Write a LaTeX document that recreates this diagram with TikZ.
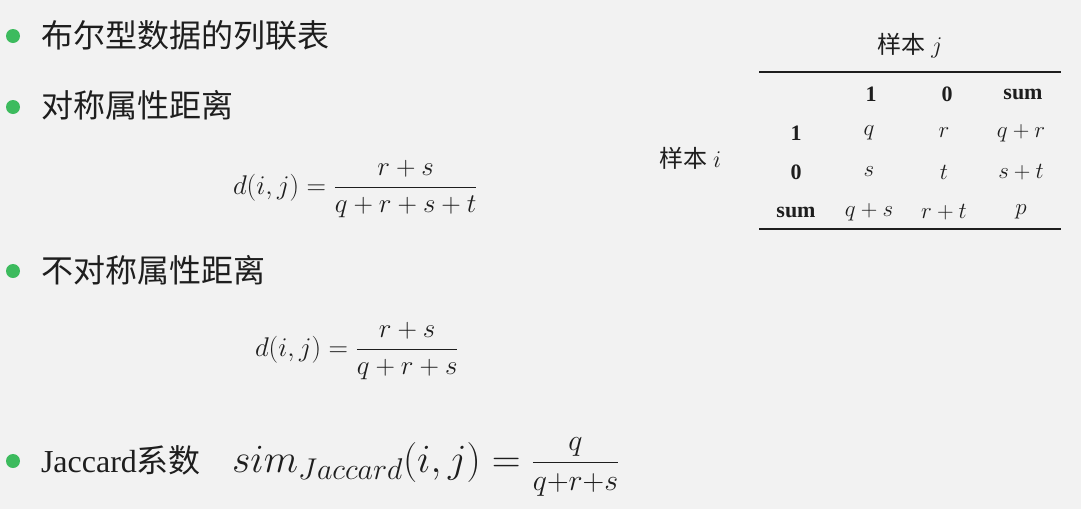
\RequirePackage{fix-cm}
\documentclass[tikz,border=0pt]{standalone}
\usepackage{fontspec}
\setmainfont{Liberation Serif}
\newfontfamily\cjk{Noto Sans CJK SC}
\DeclareMathSizes{40}{40}{30}{24}
\definecolor{bg}{HTML}{F2F2F2}
\definecolor{bulletgreen}{HTML}{3DBB5E}
\definecolor{ink}{HTML}{1E1E1E}
\begin{document}
\begin{tikzpicture}[x=1pt,y=-1pt,
  every node/.style={inner sep=0pt,outer sep=0pt,text=ink},
  bulletdot/.style={circle,fill=bulletgreen,minimum size=14pt},
  heading/.style={anchor=west,font=\fontsize{32}{38}\selectfont\cjk},
  formula/.style={anchor=base west,font=\fontsize{27}{32}\selectfont},
  cell/.style={font=\fontsize{23}{27}\selectfont},
  hcell/.style={font=\fontsize{22}{26}\selectfont\bfseries},
  rule/.style={draw=ink,line width=2pt}]
\fill[bg] (0,0) rectangle (1081,509);
\useasboundingbox (0,0) rectangle (1081,509);
% bullets
\node[bulletdot] (b1) at (13,36) {};
\node[bulletdot] (b2) at (13,107) {};
\node[bulletdot] (b3) at (13,271) {};
\node[bulletdot] (b4) at (13,461) {};
\node[heading] (t1) at (41,35) {布尔型数据的列联表};
\node[heading] (t2) at (41,105) {对称属性距离};
\node[heading] (t3) at (41,270) {不对称属性距离};
\node[anchor=west,font=\fontsize{32}{38}\selectfont] (t4) at (41,460) {Jaccard{\cjk 系数}};
% formulas
\node[formula] (f1) at (233,194) {$\displaystyle d(i,j)=\frac{r+s}{q+r+s+t}$};
\node[formula] (f2) at (255,356) {$\displaystyle d(i,j)=\frac{r+s}{q+r+s}$};
\node[anchor=base west,font=\fontsize{40}{48}\selectfont] (f3) at (232,472) {$\textstyle sim_{Jaccard}(i,j)=\frac{\raisebox{6pt}{$\scriptstyle q$}}{\raisebox{-5pt}{$\scriptstyle q+r+s$}}$};
% table
\node[font=\fontsize{24}{28}\selectfont] (sj) at (910,46) {{\cjk 样本} $j$};
\node[font=\fontsize{24}{28}\selectfont] (si) at (690,158) {{\cjk 样本} $i$};
\coordinate (r1a) at (759,72);
\coordinate (r1b) at (1061,72);
\coordinate (r2a) at (759,229);
\coordinate (r2b) at (1061,229);
\draw[rule] (r1a) -- (r1b);
\draw[rule] (r2a) -- (r2b);
\node[hcell] (h1) at (871,94) {1};
\node[hcell] (h0) at (947,94) {0};
\node[hcell] (hs) at (1023,94) {sum};
\node[hcell] (v1) at (796,133) {1};
\node[hcell] (v0) at (796,172) {0};
\node[hcell] (vs) at (796,212) {sum};
\node[cell] (c11) at (869,133) {$q$};
\node[cell] (c12) at (944,133) {$r$};
\node[cell] (c13) at (1021,133) {$q+r$};
\node[cell] (c21) at (869,172) {$s$};
\node[cell] (c22) at (944,172) {$t$};
\node[cell] (c23) at (1021,172) {$s+t$};
\node[cell] (c31) at (869,212) {$q+s$};
\node[cell] (c32) at (944,212) {$r+t$};
\node[cell] (c33) at (1021,212) {$p$};
\end{tikzpicture}
\end{document}
